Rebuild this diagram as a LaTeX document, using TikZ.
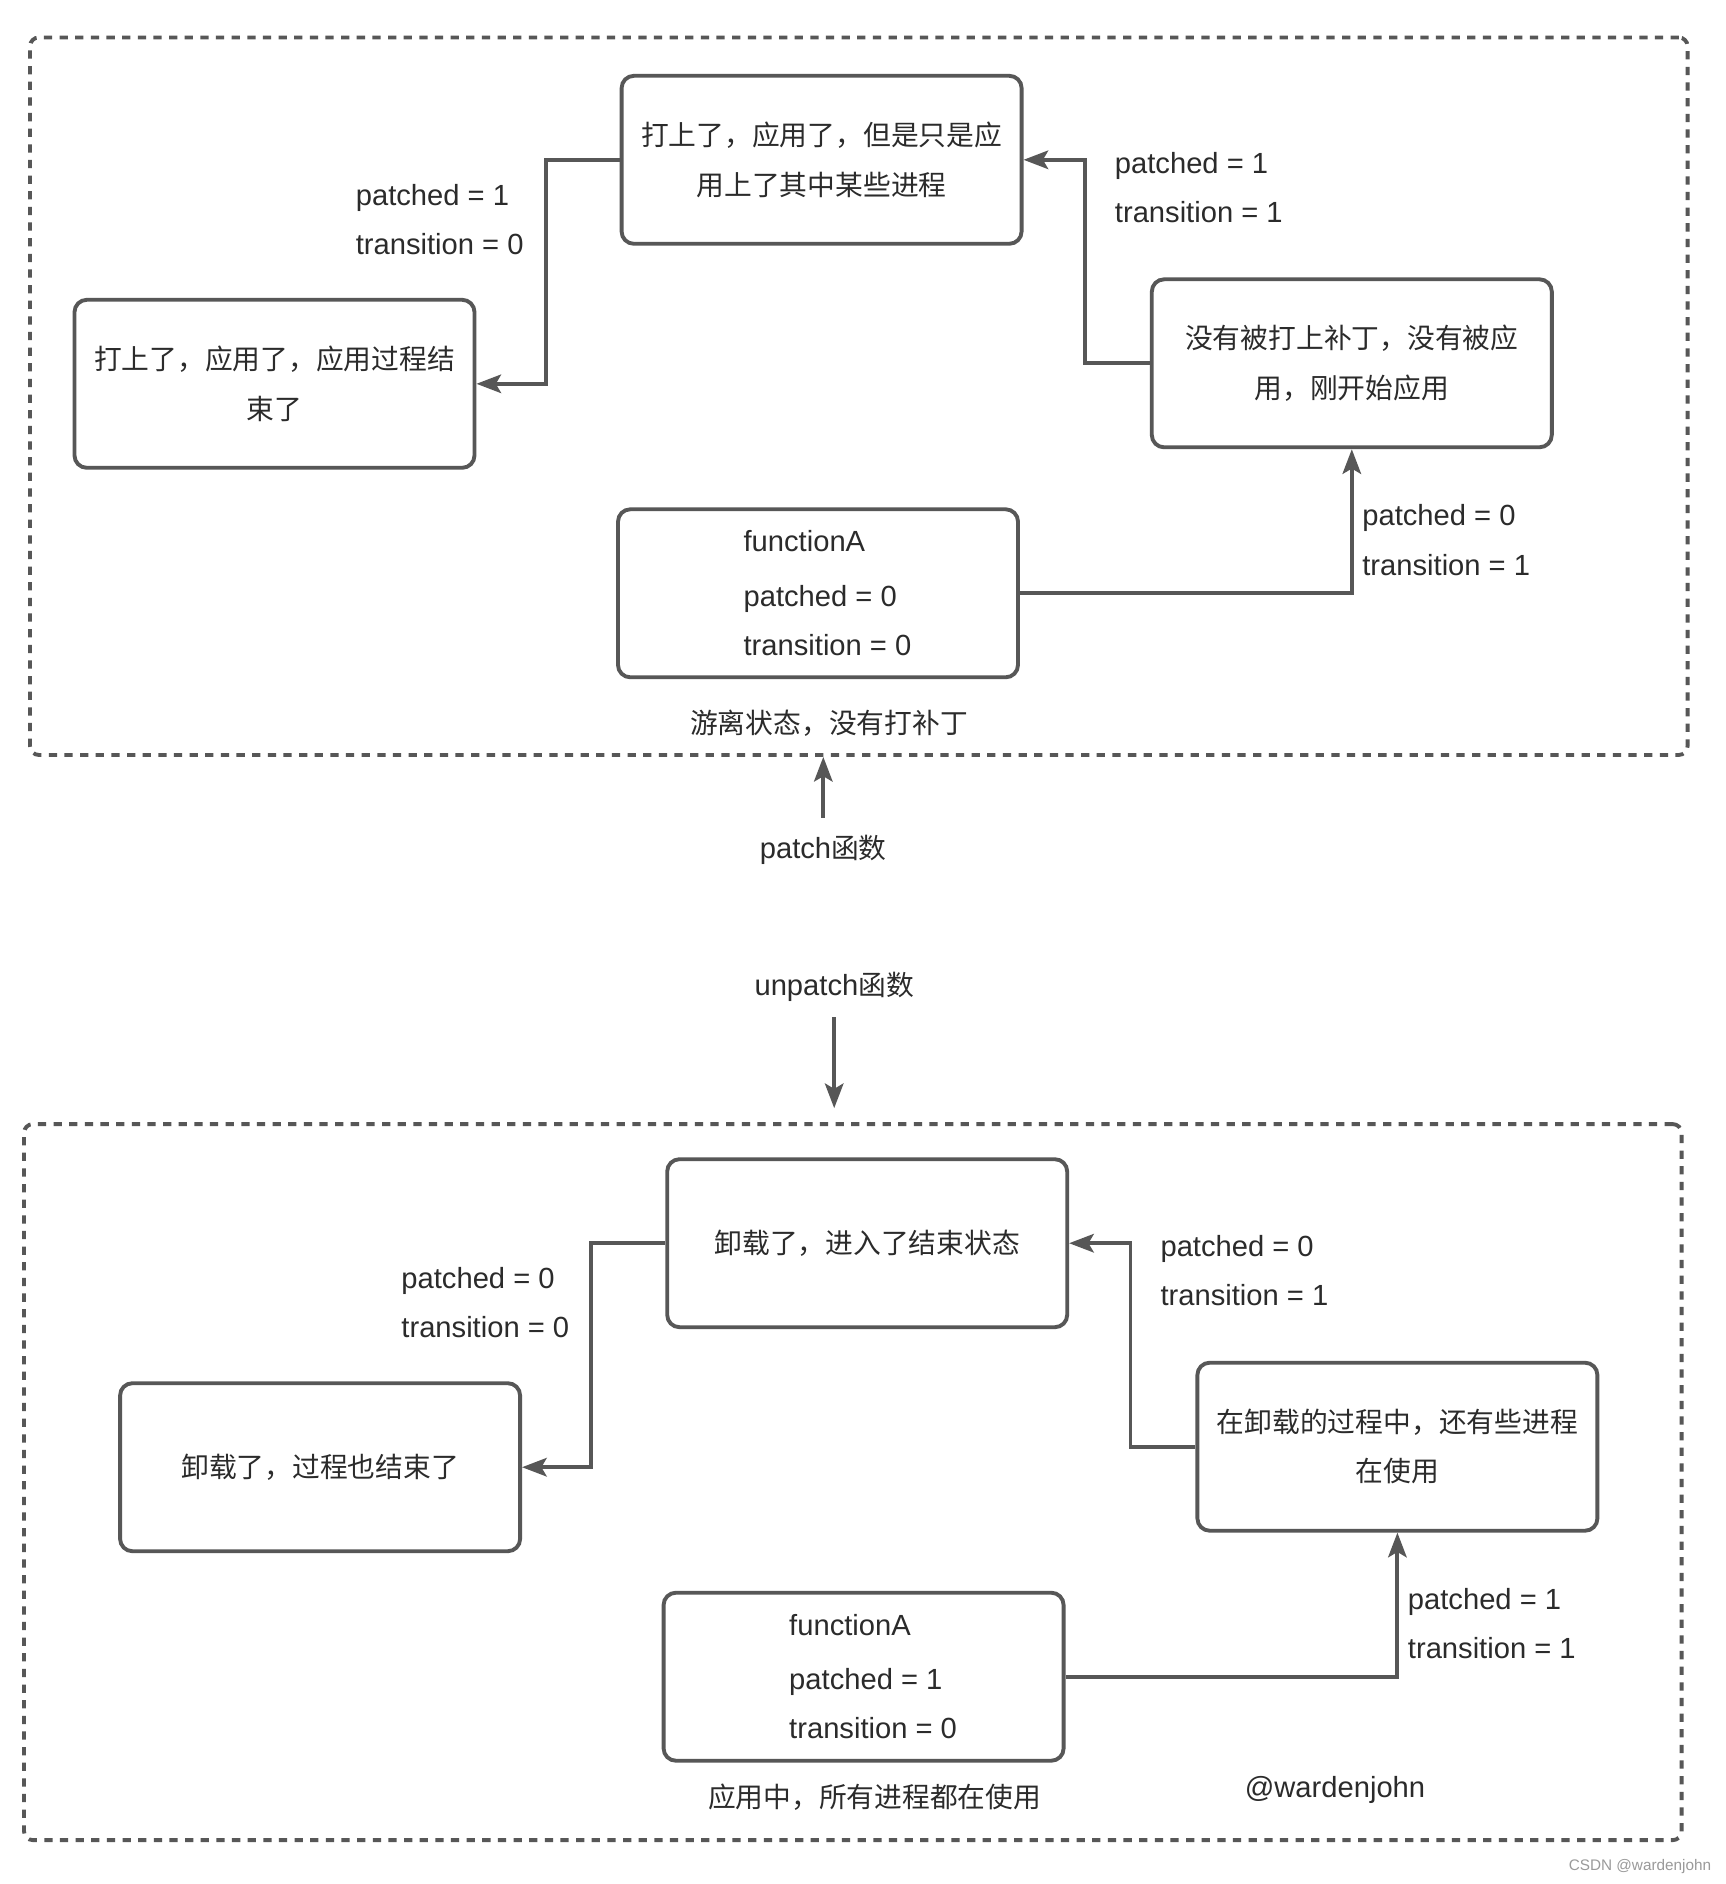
\documentclass[tikz,border=0pt]{standalone}
\usepackage{fontspec}
\setmainfont{Noto Sans CJK SC}
\newfontfamily\lat{Liberation Sans}[Scale=1.05]
\usetikzlibrary{arrows.meta,positioning}
\definecolor{linegray}{HTML}{575757}
\definecolor{textgray}{HTML}{2B2B2B}
\definecolor{markgray}{HTML}{9A9A9A}
\newcommand{\diagfont}{\fontsize{15.8pt}{28pt}\selectfont}
\newcommand{\ind}{\hspace*{3.8mm}}

\begin{document}
\begin{tikzpicture}[x=0.2mm,y=-0.2mm]
    \tikzset{>={Stealth[length=14pt,width=10.5pt,inset=3pt]}}
    \tikzset{state/.style={draw=linegray,line width=2.2pt,rounded corners=7pt,minimum width=80mm,minimum height=33.6mm,align=center,text=textgray,font=\diagfont}}
    \tikzset{frame/.style={draw=linegray,line width=2.2pt,dash pattern=on 4.7pt off 4.2pt,rounded corners=5pt,minimum width=331.5mm}}
    \tikzset{cond/.style={anchor=west,align=left,inner sep=0pt,text=textgray,font=\diagfont\lat}}
    \tikzset{note/.style={inner sep=0pt,text=textgray,font=\diagfont}}
    \tikzset{link/.style={->,draw=linegray,line width=2.2pt}}
  %\draw[step=100,gray,very thin] (0,0) grid (1726,1884);

  \path[use as bounding box,fill=white] (0,0) rectangle (1726,1884);

  % upper frame
\node[frame,minimum height=143.5mm] (T) at (858.8,396.2) {};
\node[state] (A1) at (821.6,159.8) {打上了，应用了，但是只是应\\用上了其中某些进程};
\node[state] (D1) at (274.5,383.8) {打上了，应用了，应用过程结\\束了};
\node[state] (N1) at (1351.8,363.3) {没有被打上补丁，没有被应\\用，刚开始应用};
\node[state,font=\diagfont\lat,align=left] (F1) at (818,593.3) {\ind functionA\\[3pt]\ind patched = 0\\\ind transition = 0};
\node[note,below=6mm of F1,xshift=2.2mm] (S1) {游离状态，没有打补丁};

\node[cond] (C1) at (1362,540) {patched = 0\\transition = 1};
\node[cond] (C2) at (1114.6,187.3) {patched = 1\\transition = 1};
\node[cond] (C3) at (355.5,219.2) {patched = 1\\transition = 0};

\draw [link] (F1.east) -| (N1.south);
\draw [link] (N1.west) -- ++(-65,0) |- (A1.east);
\draw [link] (A1.west) -- ++(-74,0) |- (D1.east);

  % patch / unpatch
\node[note] (PF) at (823.3,850) {{\lat patch}函数};
\node[note] (UF) at (834.2,987) {{\lat unpatch}函数};

  % lower frame
\node[frame,minimum height=143.2mm] (B) at (852.8,1482.1) {};
\node[state] (A2) at (867.2,1243.2) {卸载了，进入了结束状态};
\node[state] (D2) at (320.1,1467.2) {卸载了，过程也结束了};
\node[state] (N2) at (1397.4,1446.7) {在卸载的过程中，还有些进程\\在使用};
\node[state,font=\diagfont\lat,align=left] (F2) at (863.6,1676.7) {\ind functionA\\[3pt]\ind patched = 1\\\ind transition = 0};
\node[note,below=4.2mm of F2,xshift=2.2mm] (S2) {应用中，所有进程都在使用};

\node[cond] (C4) at (1407.6,1623.4) {patched = 1\\transition = 1};
\node[cond] (C5) at (1160.2,1270.7) {patched = 0\\transition = 1};
\node[cond] (C6) at (401.1,1302.6) {patched = 0\\transition = 0};

\draw [link] (F2.east) -| (N2.south);
\draw [link] (N2.west) -- ++(-65,0) |- (A2.east);
\draw [link] (A2.west) -- ++(-74,0) |- (D2.east);

\draw [link,shorten <=3.4mm] (PF.north) -- (PF |- T.south);
\draw [link,shorten <=3mm,shorten >=2.8mm] (UF.south) -- (UF |- B.north);

\node[note,font=\diagfont\lat] (W) at (1335,1790) {@wardenjohn};
\node[note,text=markgray,font=\fontsize{8.3pt}{10pt}\selectfont\lat] (M) at (1640,1867) {CSDN @wardenjohn};

\end{tikzpicture}
\end{document}
